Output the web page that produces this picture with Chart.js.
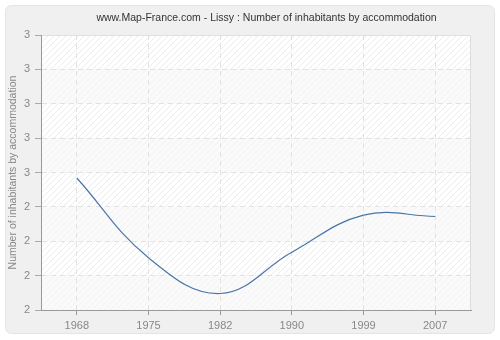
<!DOCTYPE html>
<html>
<head>
<meta charset="utf-8">
<script src="https://cdn.jsdelivr.net/npm/chart.js@4"></script>
<style>
  html, body { margin: 0; padding: 0; background: #fff; }
  #wrap { width: 500px; height: 340px; position: relative; }
</style>
</head>
<body>
<div id="wrap"><canvas id="inhabChart" width="500" height="340"></canvas></div>
<script>
const chartTitle = 'www.Map-France.com - Lissy : Number of inhabitants by accommodation';
const years = ['1968', '1975', '1982', '1990', '1999', '2007'];
const inhabitants = [2.48, 2.19, 2.06, 2.21, 2.345, 2.34];
const yMin = 2;
const yMax = 3;
const yStep = 0.125;

// diagonal hatch pattern for the plot bands
const makeHatch = (bg, fg) => {
  const c = document.createElement('canvas');
  c.width = 6; c.height = 6;
  const g = c.getContext('2d');
  g.fillStyle = bg;
  g.fillRect(0, 0, 6, 6);
  g.strokeStyle = fg;
  g.lineWidth = 1;
  g.beginPath();
  g.moveTo(0, 6); g.lineTo(6, 0);
  g.moveTo(-1, 1); g.lineTo(1, -1);
  g.moveTo(5, 7); g.lineTo(7, 5);
  g.stroke();
  return g.createPattern(c, 'repeat');
};

const panelBg = {
  id: 'panelBg',
  beforeDraw(chart) {
    const ctx = chart.ctx;
    ctx.save();
    ctx.fillStyle = '#ffffff';
    ctx.fillRect(0, 0, chart.width, chart.height);
    ctx.beginPath();
    ctx.roundRect(5.5, 5.5, 489, 328, 6);
    ctx.fillStyle = '#f0f0f0';
    ctx.fill();
    ctx.strokeStyle = '#e4e4e4';
    ctx.lineWidth = 1;
    ctx.stroke();

    const area = chart.chartArea;
    const y = chart.scales.y;
    const dark = makeHatch('#ffffff', '#ececec');
    const light = makeHatch('#fafafa', '#f3f3f3');
    let i = 0;
    for (let v = yMax; v > yMin; v -= yStep) {
      const top = y.getPixelForValue(v);
      const bot = y.getPixelForValue(v - yStep);
      ctx.fillStyle = i % 2 === 0 ? dark : light;
      ctx.fillRect(area.left, top, area.right - area.left, bot - top);
      i++;
    }
    ctx.strokeStyle = '#dddddd';
    ctx.beginPath();
    ctx.moveTo(area.left, area.top + 0.5);
    ctx.lineTo(area.right - 0.5, area.top + 0.5);
    ctx.lineTo(area.right - 0.5, area.bottom);
    ctx.stroke();

    // title, centred a bit right of the canvas middle like the original
    ctx.fillStyle = '#333333';
    ctx.font = '10.5px "Liberation Sans"';
    ctx.textAlign = 'center';
    ctx.textBaseline = 'middle';
    ctx.fillText(chartTitle, 266.5, 18.5);
    ctx.restore();
  }
};

new Chart(document.getElementById('inhabChart'), {
  type: 'line',
  data: {
    labels: years,
    datasets: [{
      label: 'Number of inhabitants by accommodation',
      data: inhabitants,
      borderColor: '#4a76a8',
      borderWidth: 1.2,
      pointRadius: 0,
      fill: false,
      tension: 0.4
    }]
  },
  options: {
    responsive: false,
    animation: false,
    layout: { padding: { left: 0, right: 29, top: 35, bottom: 0 } },
    plugins: {
      legend: { display: false },
      tooltip: { enabled: false },
      title: { display: false }
    },
    scales: {
      x: {
        offset: true,
        grid: {
          offset: false,
          color: '#e2e2e2',
          tickLength: 5,
          tickColor: '#999999',
          tickBorderDash: []
        },
        border: { color: '#999999', width: 1, dash: [5, 4] },
        ticks: {
          color: '#888888',
          padding: 4,
          maxRotation: 0,
          font: { family: 'Liberation Sans', size: 11 }
        },
        afterFit: (scale) => { scale.height = 30; }
      },
      y: {
        min: yMin,
        max: yMax,
        grid: {
          color: '#e2e2e2',
          tickLength: 6,
          tickColor: '#aaaaaa',
          tickBorderDash: []
        },
        border: { color: '#999999', width: 1, dash: [5, 4] },
        ticks: {
          stepSize: yStep,
          color: '#888888',
          padding: 5,
          font: { family: 'Liberation Sans', size: 11 },
          callback: (v) => Math.round(v)
        },
        title: {
          display: true,
          text: 'Number of inhabitants by accommodation',
          color: '#888888',
          font: { family: 'Liberation Sans', size: 10.5 },
          padding: { top: 7, bottom: 0 }
        },
        afterFit: (scale) => { scale.width = 41; }
      }
    }
  },
  plugins: [panelBg]
});
</script>
</body>
</html>
